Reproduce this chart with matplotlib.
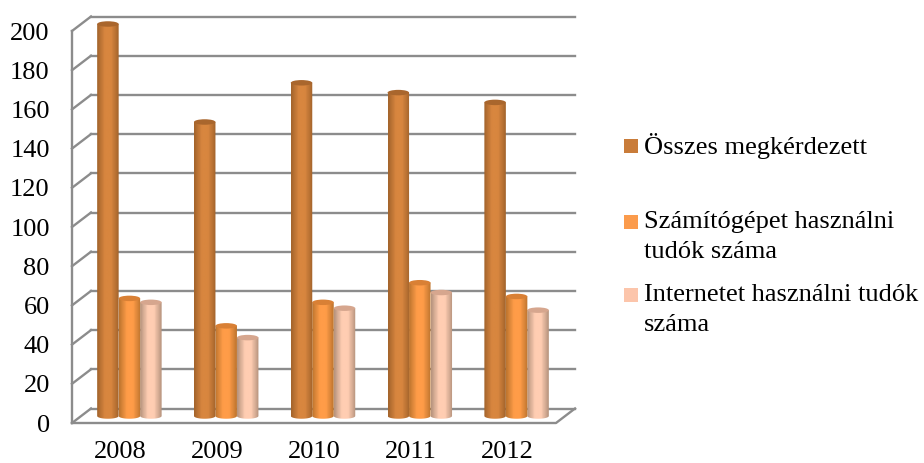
import numpy as np
import matplotlib
matplotlib.use('Agg')
import matplotlib.pyplot as plt
from matplotlib.colors import LinearSegmentedColormap
from matplotlib.patches import Ellipse, PathPatch, Rectangle
from matplotlib.path import Path
from matplotlib.transforms import Affine2D

plt.rcParams['font.family'] = ['Liberation Serif', 'DejaVu Serif']

years = ['2008', '2009', '2010', '2011', '2012']
osszes = [200, 150, 170, 165, 160]
szamitogep = [60, 46, 58, 68, 61]
internet = [58, 40, 55, 63, 54]
yticks = list(range(0, 201, 20))
labels = ['Összes megkérdezett', 'Számítógépet használni\ntudók száma', 'Internetet használni tudók\nszáma']

W, H = 924, 463
GRID = '#8c8c8c'
# edge, centre, cap colours of the cylinders
styles = [('#a5652c', '#d8863f', '#a9662d'),
          ('#c0762f', '#ff9c48', '#d98035'),
          ('#b8957f', '#ffcdb2', '#d6a68e')]
swatches = ['#c97c3a', '#fb9b4c', '#fcc5ab']

fig = plt.figure(figsize=(W / 100, H / 100), dpi=100)
# axes = front plane of the fake 3D box
ax = fig.add_axes([72 / W, 1 - 423 / H, 484 / W, 392 / H])
ax.set_xlim(-0.5, 4.5)
ax.set_ylim(0, 200)
for s in ax.spines.values():
    s.set_visible(False)

back = ax.get_yaxis_transform() + Affine2D().translate(19, 14.5)
front = ax.get_yaxis_transform()
barpos = ax.transData + Affine2D().translate(9, 7)
line_kw = dict(color=GRID, lw=1.7, zorder=1, clip_on=False)

# back wall and left wall
for v in yticks:
    ax.plot([0, 1], [v, v], transform=back, **line_kw)
    ax.plot([0, 19 / 484], [v, v + 14.5 / 1.96], transform=front, **line_kw)
ax.plot([0, 0], [0, 200], transform=front, **line_kw)
# floor
ax.plot([0, 1, 1 + 19 / 484], [0, 0, 14.5 / 1.96], transform=front, **line_kw)

width = 0.222
cap_h = 2.8


def cylinder(xc, value, style, z):
    edge, mid, cap = style
    x0, x1 = xc - width / 2, xc + width / 2
    t = np.linspace(np.pi, 2 * np.pi, 30)
    xs = xc + np.cos(t) * width / 2
    ys = np.sin(t) * cap_h / 2
    verts = list(zip(xs, ys)) + [(x1, value), (x0, value)]
    clip = PathPatch(Path(verts + [verts[0]], closed=True), transform=barpos, fc='none', ec='none', clip_on=False)
    ax.add_patch(clip)
    cmap = LinearSegmentedColormap.from_list('c', [(0, edge), (0.35, mid), (0.65, mid), (1, edge)], N=64)
    grad = np.linspace(0, 1, 24).reshape(1, -1)
    im = ax.imshow(grad, extent=[x0, x1, -cap_h, value], aspect='auto', cmap=cmap,
                   transform=barpos, zorder=z, interpolation='bilinear', vmin=0, vmax=1)
    im.set_clip_box(fig.bbox)
    im.set_clip_path(clip)
    ax.add_patch(Ellipse((xc, value), width, cap_h, transform=barpos, fc=cap, ec='none',
                         zorder=z + 0.1, clip_on=False))


for i in range(len(years)):
    cylinder(i - width, osszes[i], styles[0], 4)
    cylinder(i, szamitogep[i], styles[1], 3)
    cylinder(i + width, internet[i], styles[2], 2)

ax.set_xlim(-0.5, 4.5)
ax.set_ylim(0, 200)
ax.set_xticks(range(len(years)), years)
ax.set_yticks(yticks)
ax.tick_params(length=0, labelsize=19, colors='black')
ax.tick_params(axis='x', pad=13)
ax.tick_params(axis='y', pad=16)

# legend laid out by hand, rows are unevenly spaced
rows = [146, 222, 295]
line_gap = 30
for lab, col, y in zip(labels, swatches, rows):
    fig.add_artist(Rectangle((624 / W, 1 - (y + 7) / H), 14 / W, 14 / H, transform=fig.transFigure, fc=col, ec='none'))
    for k, part in enumerate(lab.split('\n')):
        fig.text(644 / W, 1 - (y + k * line_gap) / H, part, fontsize=19, va='center', ha='left', color='black')

fig.savefig('out.png', dpi=100)
